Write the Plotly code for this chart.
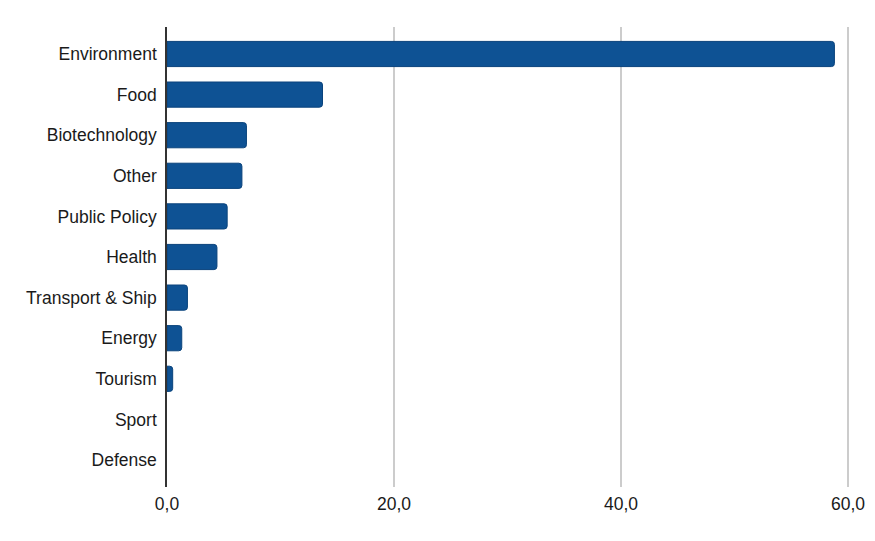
import plotly.graph_objects as go

categories = [
    "Environment", "Food", "Biotechnology", "Other", "Public Policy", "Health",
    "Transport & Ship", "Energy", "Tourism", "Sport", "Defense",
]
values = [58.8, 13.7, 7.0, 6.6, 5.3, 4.4, 1.8, 1.3, 0.5, 0.0, 0.0]
x_ticks = [0, 20, 40, 60]

fig = go.Figure()
fig.add_trace(
    go.Bar(
        x=values,
        y=categories,
        orientation="h",
        marker={
            "color": "#0e5294",
            # no outline on empty bars, otherwise a stub shows at zero
            "line": {"color": "#0a437c", "width": [1 if v > 0 else 0 for v in values]},
        },
        hoverinfo="x+y",
    )
)

fig.update_layout(
    width=875,
    height=541,
    plot_bgcolor="white",
    paper_bgcolor="white",
    font={"family": "Liberation Sans, Arial, sans-serif", "size": 17.5, "color": "#1a1a1a"},
    margin={"l": 167, "r": 23, "t": 27, "b": 54, "autoexpand": False},
    bargap=0.38,
    barcornerradius=3,
    separators=",.",
    showlegend=False,
)
fig.update_xaxes(
    range=[0, 60.35],
    tickvals=x_ticks,
    tickformat=".1f",
    showgrid=True,
    gridcolor="#cccccc",
    gridwidth=1.5,
    zeroline=False,
    showline=False,
    ticks="",
    ticklabelstandoff=4,
    automargin=False,
)
fig.update_yaxes(
    categoryorder="array",
    categoryarray=categories,
    range=[10.665, -0.665],
    showgrid=False,
    showline=True,
    linecolor="#333333",
    linewidth=1.5,
    ticks="",
    ticklabelstandoff=5,
    automargin=False,
)

# drop the browser's default body margin so the figure sits at the page corner
fig.write_html(
    "out.html",
    config={"displayModeBar": False},
    post_script="document.body.style.margin='0';",
)
